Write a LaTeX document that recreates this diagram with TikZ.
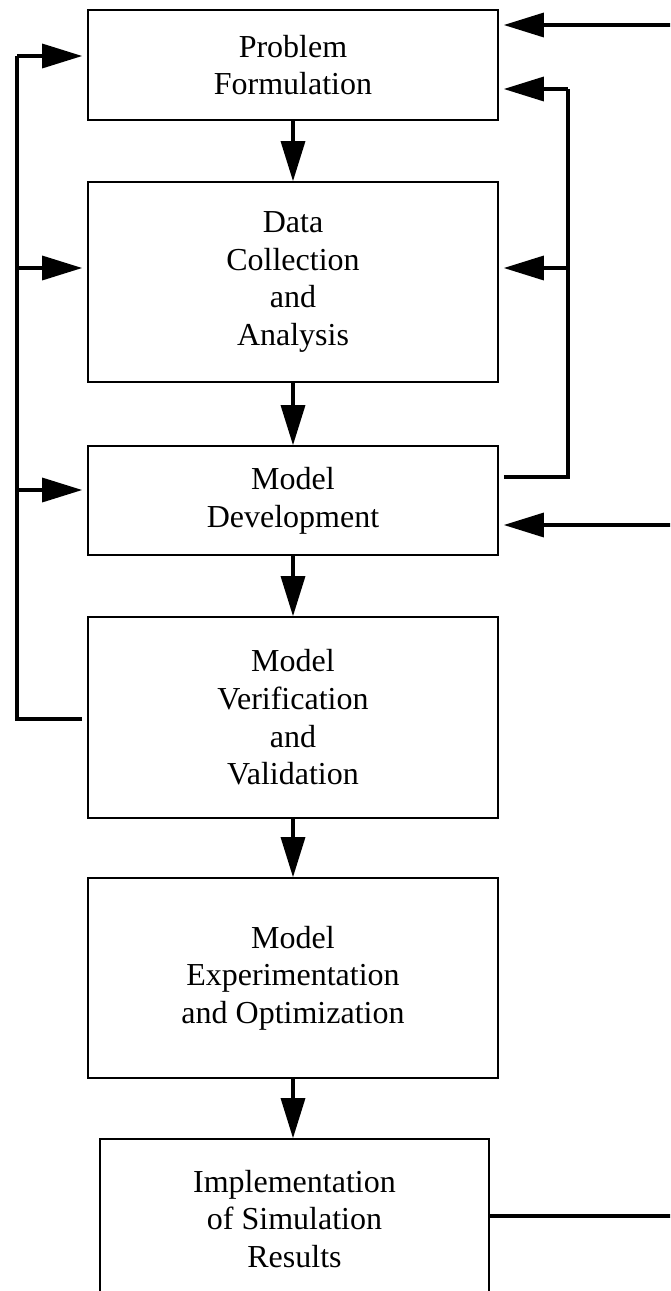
\documentclass[tikz,border=0pt]{standalone}
\usepackage{fontspec}
\setmainfont{Liberation Serif}
\usetikzlibrary{arrows.meta,calc}
\begin{document}
\begin{tikzpicture}[x=0.5pt,y=-0.5pt,
  box/.style={draw,line width=0.8pt,minimum width=205pt,align=center,inner sep=0pt,
    font=\fontsize{16}{18.8}\selectfont},
  conn/.style={line width=1.6pt},
  arr/.style={conn,-{Triangle[length=20pt,width=12pt]}},
]
\useasboundingbox (0,0) rectangle (670,1291);
\clip (0,0) rectangle (670,1291);
\node[box,minimum height=55pt]  (B1) at (293,65)    {Problem\\Formulation};
\node[box,minimum height=100pt] (B2) at (293,282)   {Data\\Collection\\and\\Analysis};
\node[box,minimum height=54.5pt](B3) at (293,500.5) {Model\\Development};
\node[box,minimum height=100.5pt](B4) at (293,717.5){Model\\Verification\\and\\Validation};
\node[box,minimum height=100pt] (B5) at (293,978)   {Model\\Experimentation\\and Optimization};
\node[box,minimum width=194.5pt,minimum height=80pt] (B6) at (294.5,1219) {Implementation\\of Simulation\\Results};
% main flow
\draw[arr] (B1) -- (B2);
\draw[arr] (B2) -- (B3);
\draw[arr] (B3) -- (B4);
\draw[arr] (B4) -- (B5);
\draw[arr] (B5.south) -- (B5.south |- B6.north);
% left feedback loop
\coordinate (L1) at (17,56);
\coordinate (L2) at (17,268);
\coordinate (L3) at (17,490);
\coordinate (L4) at (17,719);
\draw[conn,shorten <=2.5pt] (B4.west |- L4) -- (L4) -- (L1);
\draw[arr,shorten >=2.5pt] (L1) -- (L1 -| B1.west);
\draw[arr,shorten >=2.5pt] (L2) -- (L2 -| B2.west);
\draw[arr,shorten >=2.5pt] (L3) -- (L3 -| B3.west);
% right feedback loop from model development
\coordinate (R1) at (568,89);
\coordinate (R2) at (568,268);
\coordinate (R3) at (568,477);
\draw[conn,shorten <=2.5pt] (B3.east |- R3) -- (R3) -- (R1);
\draw[arr,shorten >=2.5pt] (R1) -- (R1 -| B1.east);
\draw[arr,shorten >=2.5pt] (R2) -- (R2 -| B2.east);
% outer loop from implementation
\coordinate (T1) at (672,25);
\coordinate (T2) at (672,525);
\coordinate (T3) at (672,1216);
\draw[arr,shorten >=2.5pt] (T1) -- (T1 -| B1.east);
\draw[arr,shorten >=2.5pt] (T2) -- (T2 -| B3.east);
\draw[conn] (B6.east |- T3) -- (T3);
\end{tikzpicture}
\end{document}
